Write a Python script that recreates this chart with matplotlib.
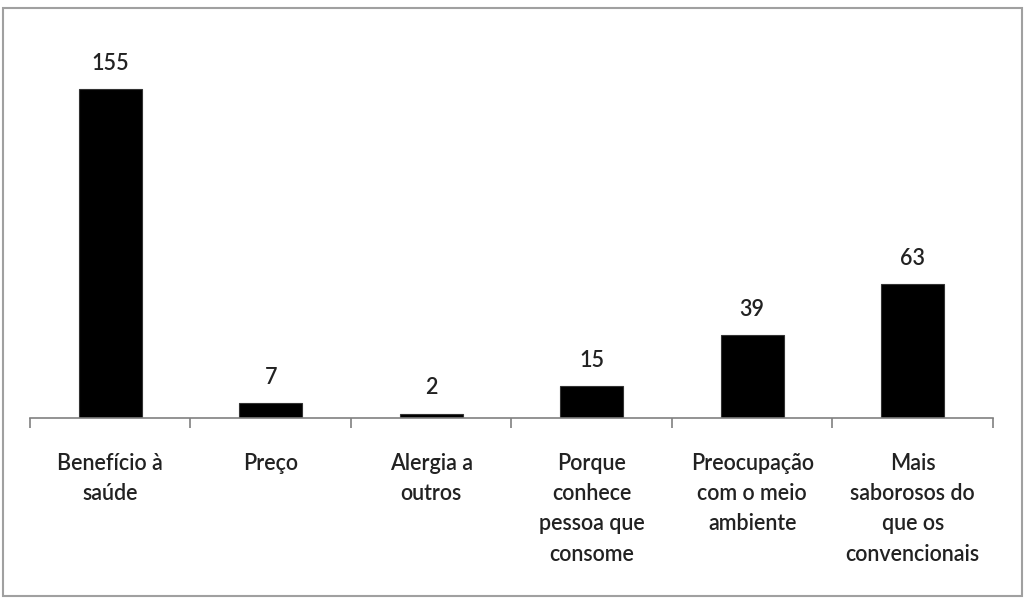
import matplotlib
matplotlib.use("Agg")
import matplotlib.pyplot as plt
from matplotlib.patches import Rectangle
import numpy as np

categories = ["Benefício à\nsaúde", "Preço", "Alergia a\noutros",
              "Porque\nconhece\npessoa que\nconsome",
              "Preocupação\ncom o meio\nambiente",
              "Mais\nsaborosos do\nque os\nconvencionais"]
values = [155, 7, 2, 15, 39, 63]

plt.rcParams['font.family'] = ['Lato', 'DejaVu Sans']

fig = plt.figure(figsize=(10.29, 6), dpi=100)
fig.patches.append(Rectangle((3/1029, 1-596/600), 1019/1029, 588/600,
                             transform=fig.transFigure, fill=False,
                             edgecolor='#a0a0a0', linewidth=1.5))
ax = fig.add_axes([30/1029, 1-418/600, 963/1029, 398/600])
x = np.arange(len(values))
bars = ax.bar(x, values, width=0.39, color='black', edgecolor='#333333', linewidth=0.8)
for xi, v in zip(x, values):
    ax.annotate(str(v), (xi, v), xytext=(0, 11), textcoords='offset points',
                ha='center', va='bottom', fontsize=15.5, fontweight='semibold',
                color='#222222')
ax.set_xlim(-0.5, len(values) - 0.5)
ax.set_ylim(0, 187.7)
ax.set_xticks(x)
ax.set_xticklabels(categories, fontsize=15.5, fontweight='semibold', color='#222222',
                   linespacing=1.55, va='top')
ax.tick_params(axis='x', which='major', length=0, pad=25)
ax.set_xticks(np.arange(-0.5, len(values)), minor=True)
ax.tick_params(axis='x', which='minor', length=7, width=1.2, color='#808080', direction='out')
ax.set_yticks([])
for s in ['top', 'right', 'left']:
    ax.spines[s].set_visible(False)
ax.spines['bottom'].set_color('#808080')
ax.spines['bottom'].set_linewidth(1.2)
fig.savefig('out.png', dpi=100)
